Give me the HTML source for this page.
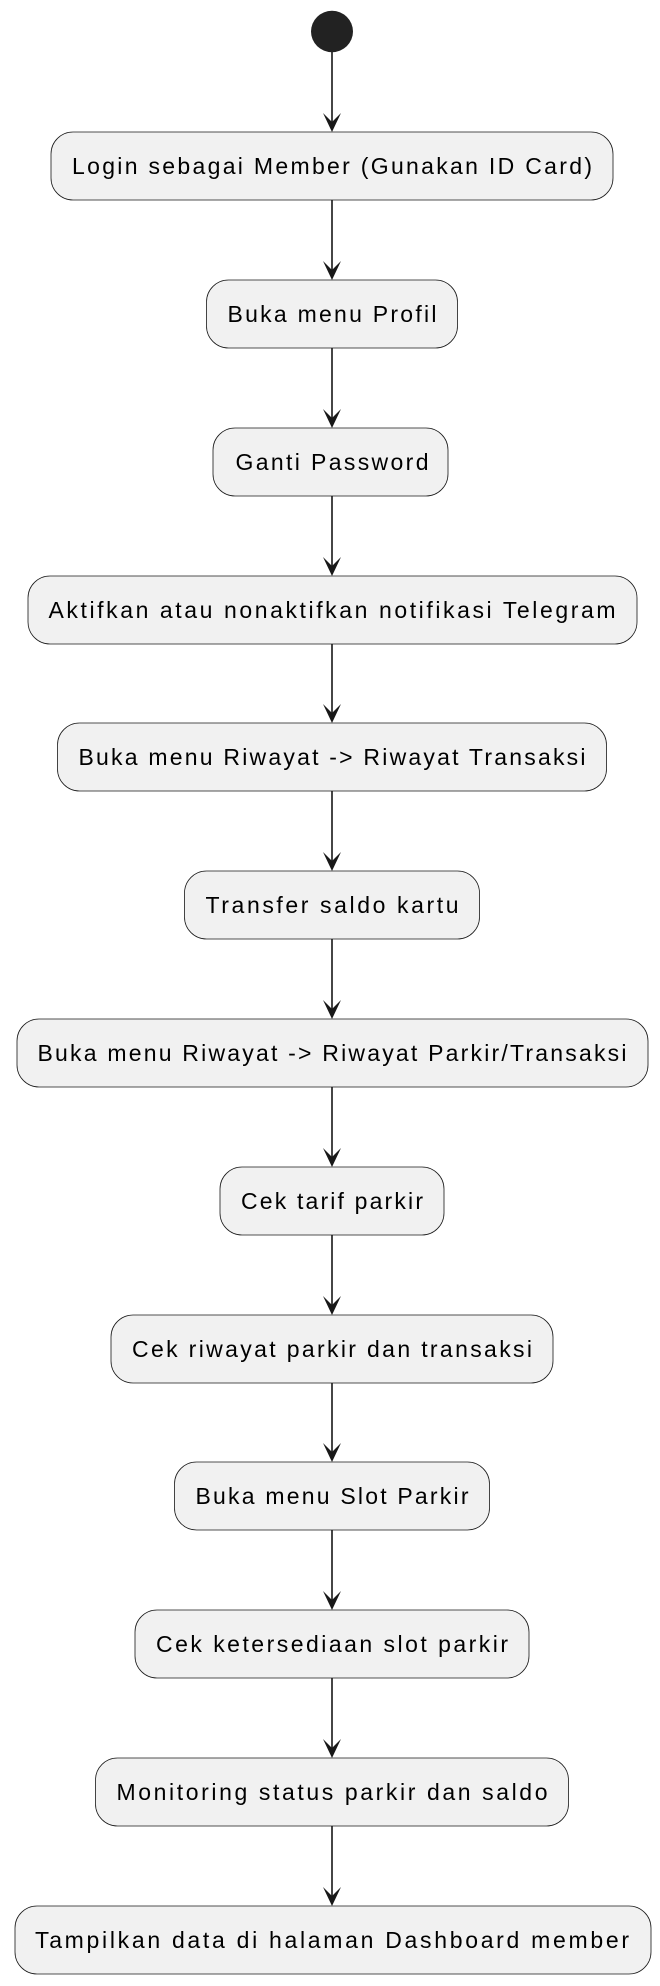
<!DOCTYPE html>
<html><head><meta charset="utf-8"><style>
html,body{margin:0;padding:0;background:#fff;}
svg{display:block;}
text{font-family:"Liberation Sans",sans-serif;font-size:23px;fill:#000;}
</style></head><body>
<svg width="660" height="1986" viewBox="0 0 660 1986" xmlns="http://www.w3.org/2000/svg">
<ellipse cx="332" cy="31.5" rx="21" ry="20.7" fill="#222"/>
<g stroke="#181818" stroke-width="1.6" fill="none">
<line x1="332" y1="52" x2="332" y2="126"/>
<line x1="332" y1="200" x2="332" y2="274"/>
<line x1="332" y1="348" x2="332" y2="422"/>
<line x1="332" y1="496" x2="332" y2="570"/>
<line x1="332" y1="644" x2="332" y2="717"/>
<line x1="332" y1="791" x2="332" y2="865"/>
<line x1="332" y1="939" x2="332" y2="1013"/>
<line x1="332" y1="1087" x2="332" y2="1161"/>
<line x1="332" y1="1235" x2="332" y2="1309"/>
<line x1="332" y1="1383" x2="332" y2="1456"/>
<line x1="332" y1="1530" x2="332" y2="1604"/>
<line x1="332" y1="1678" x2="332" y2="1752"/>
<line x1="332" y1="1826" x2="332" y2="1900"/>
</g>
<g fill="#181818">
<polygon points="332,132 323,113 332,122 341,113"/>
<polygon points="332,280 323,261 332,270 341,261"/>
<polygon points="332,428 323,409 332,418 341,409"/>
<polygon points="332,576 323,557 332,566 341,557"/>
<polygon points="332,723 323,704 332,713 341,704"/>
<polygon points="332,871 323,852 332,861 341,852"/>
<polygon points="332,1019 323,1000 332,1009 341,1000"/>
<polygon points="332,1167 323,1148 332,1157 341,1148"/>
<polygon points="332,1315 323,1296 332,1305 341,1296"/>
<polygon points="332,1462 323,1443 332,1452 341,1443"/>
<polygon points="332,1610 323,1591 332,1600 341,1591"/>
<polygon points="332,1758 323,1739 332,1748 341,1739"/>
<polygon points="332,1906 323,1887 332,1896 341,1887"/>
</g>
<g fill="#F1F1F1" stroke="#181818" stroke-width="0.8">
<rect x="51" y="132" width="562" height="68" rx="22"/>
<rect x="206.5" y="280" width="251" height="68" rx="22"/>
<rect x="213" y="428" width="235" height="68" rx="22"/>
<rect x="28" y="576" width="609" height="68" rx="22"/>
<rect x="57.5" y="723" width="549" height="68" rx="22"/>
<rect x="184.5" y="871" width="295" height="68" rx="22"/>
<rect x="17" y="1019" width="631" height="68" rx="22"/>
<rect x="220" y="1167" width="224" height="68" rx="22"/>
<rect x="111" y="1315" width="442" height="68" rx="22"/>
<rect x="174.5" y="1462" width="315" height="68" rx="22"/>
<rect x="135" y="1610" width="394" height="68" rx="22"/>
<rect x="95.5" y="1758" width="473" height="68" rx="22"/>
<rect x="15" y="1906" width="636" height="68" rx="22"/>
</g>
<g text-anchor="middle">
<text x="332" y="174" textLength="520" lengthAdjust="spacing">Login sebagai Member (Gunakan ID Card)</text>
<text x="332" y="322" textLength="209" lengthAdjust="spacing">Buka menu Profil</text>
<text x="332" y="470" textLength="193" lengthAdjust="spacing">Ganti Password</text>
<text x="332" y="618" textLength="567" lengthAdjust="spacing">Aktifkan atau nonaktifkan notifikasi Telegram</text>
<text x="332" y="765" textLength="507" lengthAdjust="spacing">Buka menu Riwayat -&gt; Riwayat Transaksi</text>
<text x="332" y="913" textLength="253" lengthAdjust="spacing">Transfer saldo kartu</text>
<text x="332" y="1061" textLength="589" lengthAdjust="spacing">Buka menu Riwayat -&gt; Riwayat Parkir/Transaksi</text>
<text x="332" y="1209" textLength="182" lengthAdjust="spacing">Cek tarif parkir</text>
<text x="332" y="1357" textLength="400" lengthAdjust="spacing">Cek riwayat parkir dan transaksi</text>
<text x="332" y="1504" textLength="273" lengthAdjust="spacing">Buka menu Slot Parkir</text>
<text x="332" y="1652" textLength="352" lengthAdjust="spacing">Cek ketersediaan slot parkir</text>
<text x="332" y="1800" textLength="431" lengthAdjust="spacing">Monitoring status parkir dan saldo</text>
<text x="332" y="1948" textLength="594" lengthAdjust="spacing">Tampilkan data di halaman Dashboard member</text>
</g>
</svg>
</body></html>
